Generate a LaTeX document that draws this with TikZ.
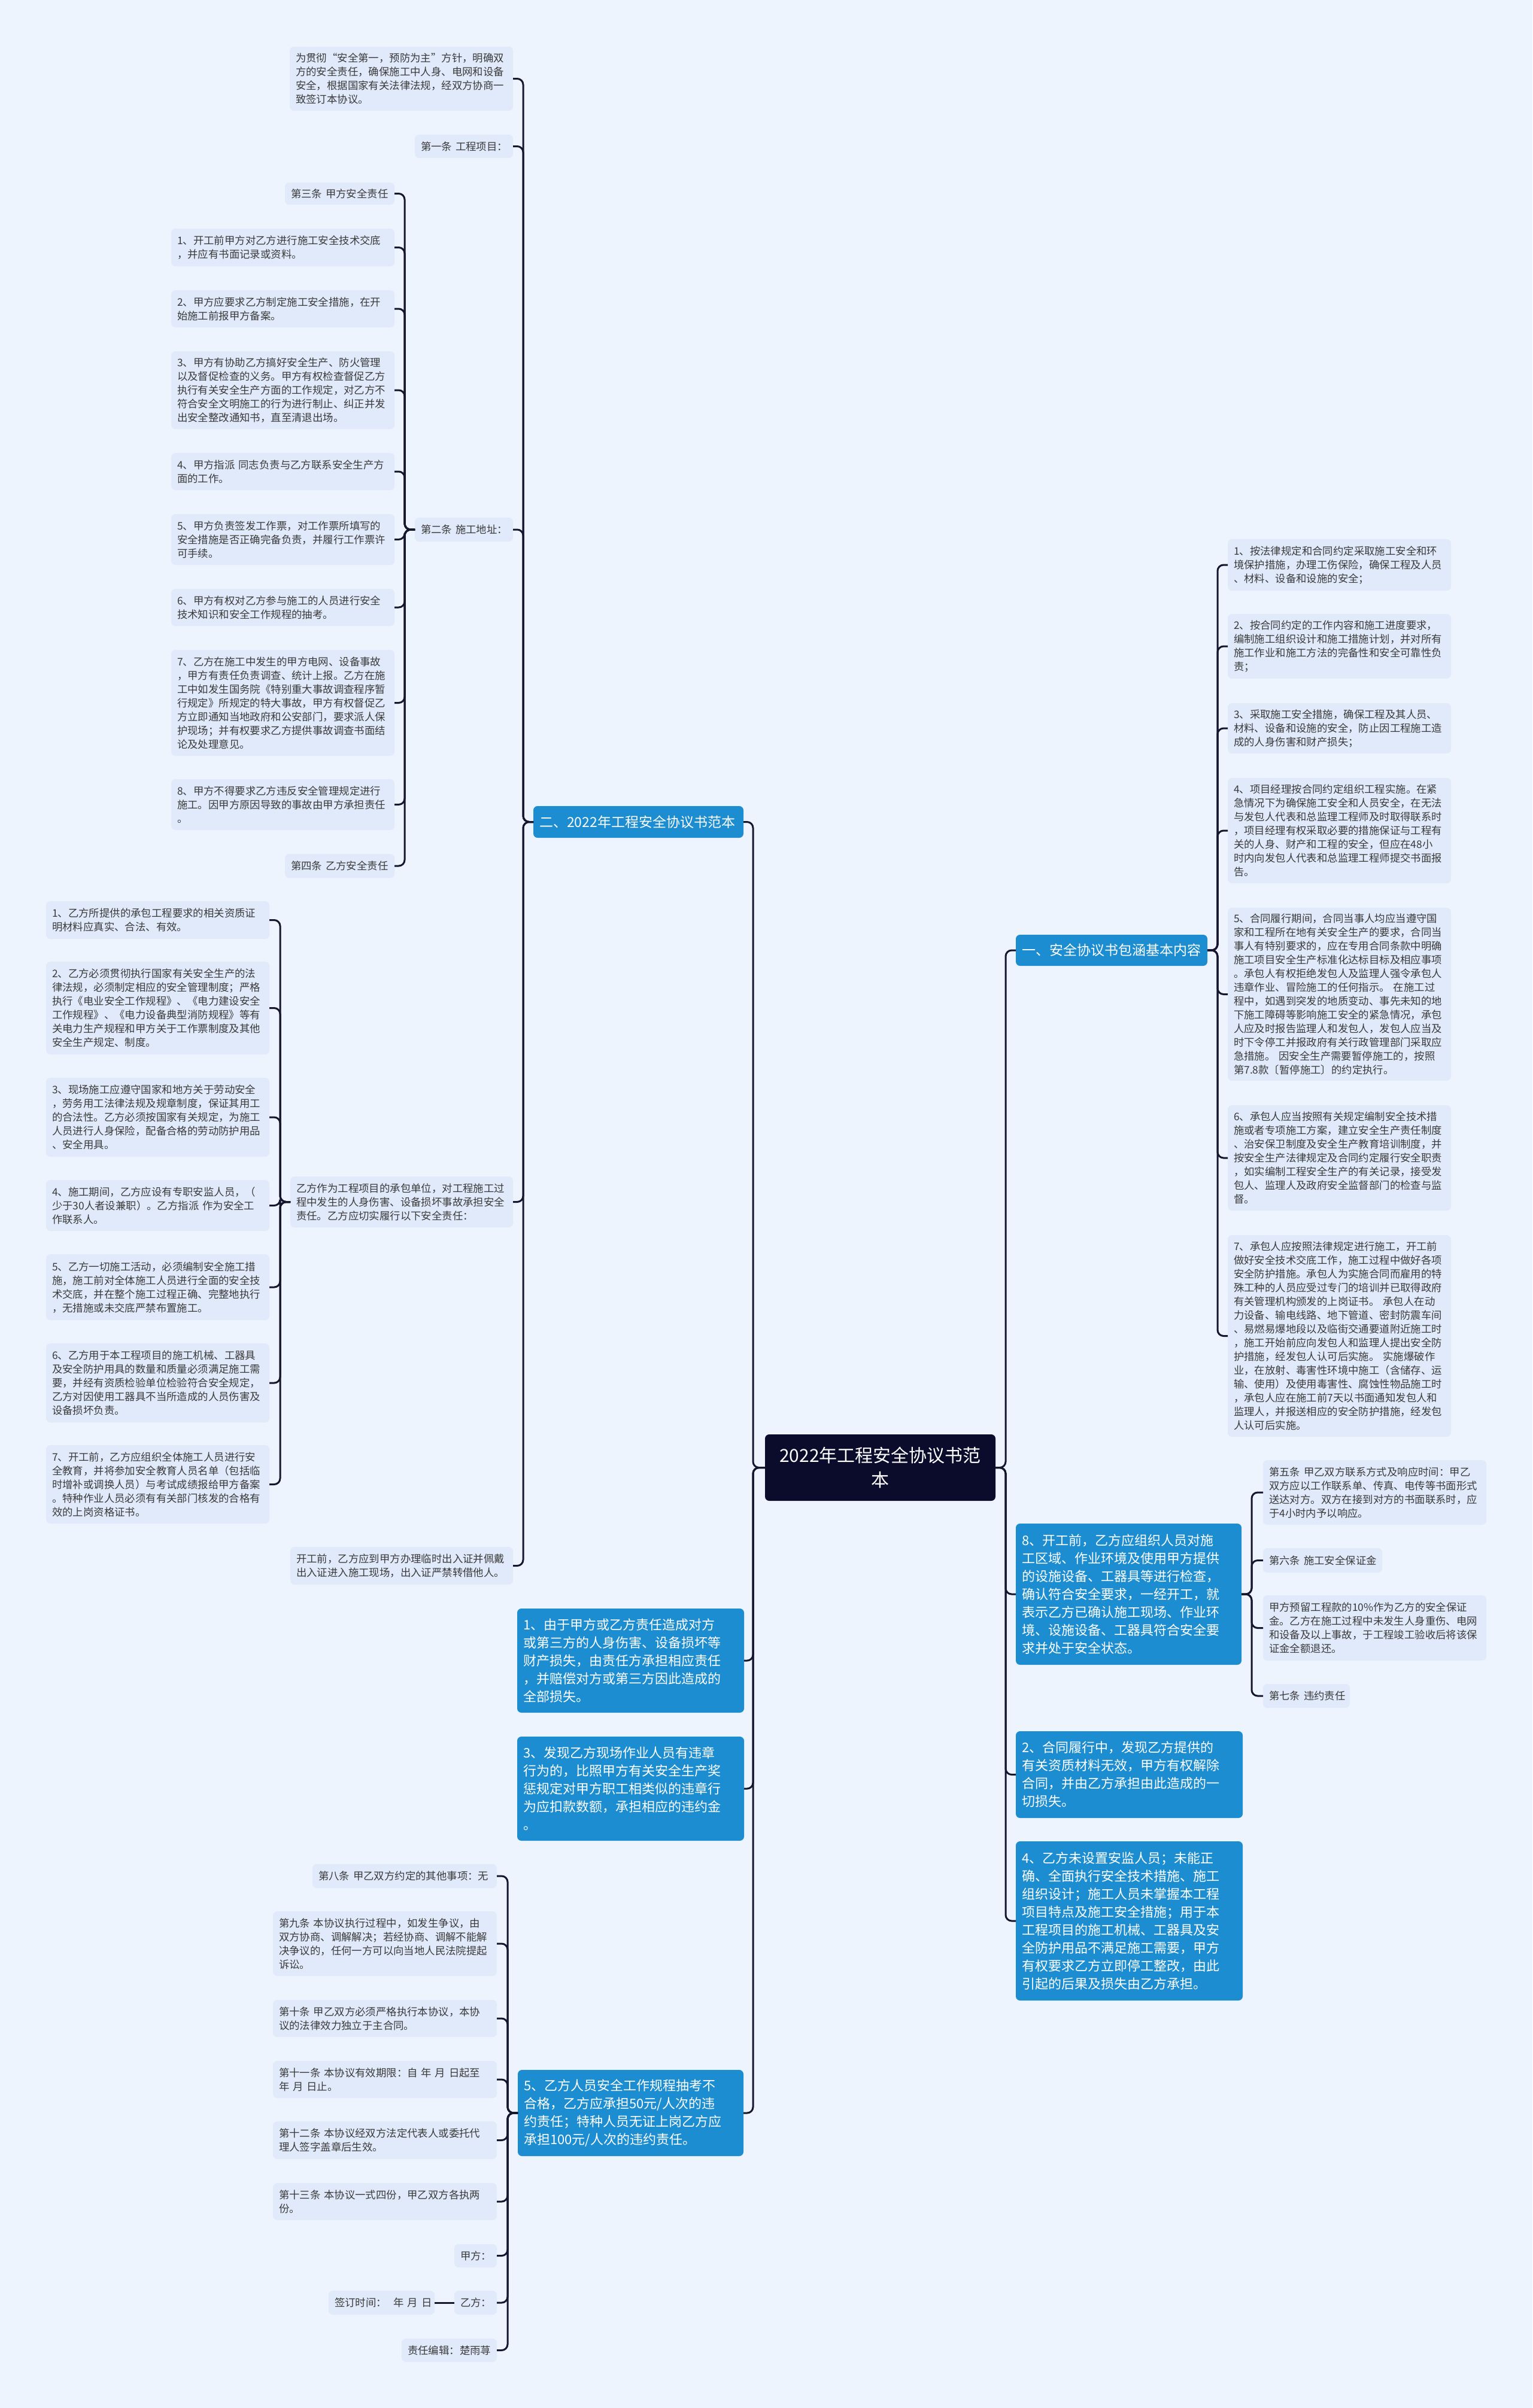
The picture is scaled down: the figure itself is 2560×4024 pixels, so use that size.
\documentclass[tikz,border=0pt]{standalone}
\usepackage{fontspec}
\newfontfamily\cjk{Noto Sans CJK SC}
\definecolor{bgc}{HTML}{EEF4FE}
\definecolor{leaff}{HTML}{E1EAFB}
\definecolor{bluef}{HTML}{1B8DD0}
\definecolor{rootf}{HTML}{0B0B2C}
\definecolor{linec}{HTML}{16162E}
\definecolor{txt}{HTML}{3A3A3A}
\tikzset{
 base/.style={anchor=north west, inner xsep=10pt, inner ysep=3pt, outer sep=0pt, rounded corners=7pt, align=left},
 leaf/.style={base, fill=leaff, text=txt, font=\cjk\fontsize{17.4}{23}\selectfont},
 bluebox/.style={base, fill=bluef, text=white, font=\cjk\fontsize{22}{30}\selectfont},
 head/.style={base, fill=bluef, text=white, font=\cjk\fontsize{23}{28}\selectfont},
 rootbox/.style={base, fill=rootf, text=white, align=center, font=\cjk\fontsize{30}{41}\selectfont},
 conn/.style={draw=linec, line width=3pt, rounded corners=10pt},
}
\newcommand\mynode[7]{%
 \pgfmathsetmacro\mnW{#5-#3}%
 \pgfmathsetmacro\mnH{#6-#4}%
 \pgfmathsetmacro\mnT{#5-#3-20}%
 \node[#1, minimum width=\mnW pt, minimum height=\mnH pt, text width=\mnT pt] (#2) at (#3,#4) {#7};}
\newcommand\connL[2]{\draw[conn] (#1.west) -- ++(-17,0) |- (#2.east);}
\newcommand\connR[2]{\draw[conn] (#1.east) -- ++(17,0) |- (#2.west);}
\begin{document}
\begin{tikzpicture}[x=1pt,y=-1pt]
\fill[bgc] (0,0) rectangle (2560,4024);
\useasboundingbox (0,0) rectangle (2560,4024);
% root
\mynode{rootbox}{root}{1278}{2397}{1663}{2508}{2022年工程安全协议书范\\本}
% ---------- left ----------
\mynode{head}{h2}{891}{1347}{1242}{1400}{二、2022年工程安全协议书范本}
\mynode{leaf}{intro}{484}{78}{857}{185}{为贯彻“安全第一，预防为主”方针，明确双\\方的安全责任，确保施工中人身、电网和设备\\安全，根据国家有关法律法规，经双方协商一\\致签订本协议。}
\mynode{leaf}{t1}{693}{225}{857}{264}{第一条~工程项目：}
\mynode{leaf}{t2}{693}{865}{857}{905}{第二条~施工地址：}
\mynode{leaf}{yz}{485}{1966}{857}{2051}{乙方作为工程项目的承包单位，对工程施工过\\程中发生的人身伤害、设备损坏事故承担安全\\责任。乙方应切实履行以下安全责任：}
\mynode{leaf}{kg}{485}{2585}{857}{2648}{开工前，乙方应到甲方办理临时出入证并佩戴\\出入证进入施工现场，出入证严禁转借他人。}
% 第二条 children
\mynode{leaf}{s3}{476}{305}{659}{342}{第三条~甲方安全责任}
\mynode{leaf}{a1}{286}{382}{659}{445}{1、开工前甲方对乙方进行施工安全技术交底\\，并应有书面记录或资料。}
\mynode{leaf}{a2}{286}{485}{659}{547}{2、甲方应要求乙方制定施工安全措施，在开\\始施工前报甲方备案。}
\mynode{leaf}{a3}{286}{587}{659}{717}{3、甲方有协助乙方搞好安全生产、防火管理\\以及督促检查的义务。甲方有权检查督促乙方\\执行有关安全生产方面的工作规定，对乙方不\\符合安全文明施工的行为进行制止、纠正并发\\出安全整改通知书，直至清退出场。}
\mynode{leaf}{a4}{286}{757}{659}{819}{4、甲方指派~同志负责与乙方联系安全生产方\\面的工作。}
\mynode{leaf}{a5}{286}{859}{659}{944}{5、甲方负责签发工作票，对工作票所填写的\\安全措施是否正确完备负责，并履行工作票许\\可手续。}
\mynode{leaf}{a6}{286}{984}{659}{1046}{6、甲方有权对乙方参与施工的人员进行安全\\技术知识和安全工作规程的抽考。}
\mynode{leaf}{a7}{286}{1086}{659}{1263}{7、乙方在施工中发生的甲方电网、设备事故\\，甲方有责任负责调查、统计上报。乙方在施\\工中如发生国务院《特别重大事故调查程序暂\\行规定》所规定的特大事故，甲方有权督促乙\\方立即通知当地政府和公安部门，要求派人保\\护现场；并有权要求乙方提供事故调查书面结\\论及处理意见。}
\mynode{leaf}{a8}{286}{1302}{659}{1387}{8、甲方不得要求乙方违反安全管理规定进行\\施工。因甲方原因导致的事故由甲方承担责任\\。}
\mynode{leaf}{s4}{476}{1427}{659}{1467}{第四条~乙方安全责任}
% 乙方作为 children
\mynode{leaf}{b1}{77}{1506}{450}{1569}{1、乙方所提供的承包工程要求的相关资质证\\明材料应真实、合法、有效。}
\mynode{leaf}{b2}{77}{1607}{450}{1762}{2、乙方必须贯彻执行国家有关安全生产的法\\律法规，必须制定相应的安全管理制度；严格\\执行《电业安全工作规程》、《电力建设安全\\工作规程》、《电力设备典型消防规程》等有\\关电力生产规程和甲方关于工作票制度及其他\\安全生产规定、制度。}
\mynode{leaf}{b3}{77}{1801}{450}{1933}{3、现场施工应遵守国家和地方关于劳动安全\\，劳务用工法律法规及规章制度，保证其用工\\的合法性。乙方必须按国家有关规定，为施工\\人员进行人身保险，配备合格的劳动防护用品\\、安全用具。}
\mynode{leaf}{b4}{77}{1972}{450}{2057}{4、施工期间，乙方应设有专职安监人员，（\\少于30人者设兼职）。乙方指派~作为安全工\\作联系人。}
\mynode{leaf}{b5}{77}{2096}{450}{2206}{5、乙方一切施工活动，必须编制安全施工措\\施，施工前对全体施工人员进行全面的安全技\\术交底，并在整个施工过程正确、完整地执行\\，无措施或未交底严禁布置施工。}
\mynode{leaf}{b6}{77}{2245}{450}{2377}{6、乙方用于本工程项目的施工机械、工器具\\及安全防护用具的数量和质量必须满足施工需\\要，并经有资质检验单位检验符合安全规定，\\乙方对因使用工器具不当所造成的人员伤害及\\设备损坏负责。}
\mynode{leaf}{b7}{77}{2415}{450}{2546}{7、开工前，乙方应组织全体施工人员进行安\\全教育，并将参加安全教育人员名单（包括临\\时增补或调换人员）与考试成绩报给甲方备案\\。特种作业人员必须有有关部门核发的合格有\\效的上岗资格证书。}
% left blue boxes
\mynode{bluebox}{lb1}{864}{2688}{1243}{2862}{1、由于甲方或乙方责任造成对方\\或第三方的人身伤害、设备损坏等\\财产损失，由责任方承担相应责任\\，并赔偿对方或第三方因此造成的\\全部损失。}
\mynode{bluebox}{lb3}{864}{2902}{1243}{3076}{3、发现乙方现场作业人员有违章\\行为的，比照甲方有关安全生产奖\\惩规定对甲方职工相类似的违章行\\为应扣款数额，承担相应的违约金\\。}
\mynode{bluebox}{lb5}{865}{3459}{1242}{3603}{5、乙方人员安全工作规程抽考不\\合格，乙方应承担50元/人次的违\\约责任；特种人员无证上岗乙方应\\承担100元/人次的违约责任。}
% lb5 children
\mynode{leaf}{d8}{522}{3115}{830}{3155}{第八条~甲乙双方约定的其他事项：无}
\mynode{leaf}{d9}{456}{3194}{830}{3302}{第九条~本协议执行过程中，如发生争议，由\\双方协商、调解解决；若经协商、调解不能解\\决争议的，任何一方可以向当地人民法院提起\\诉讼。}
\mynode{leaf}{d10}{456}{3342}{830}{3404}{第十条~甲乙双方必须严格执行本协议，本协\\议的法律效力独立于主合同。}
\mynode{leaf}{d11}{456}{3444}{830}{3506}{第十一条~本协议有效期限：自~年~月~日起至\\年~月~日止。}
\mynode{leaf}{d12}{456}{3545}{830}{3608}{第十二条~本协议经双方法定代表人或委托代\\理人签字盖章后生效。}
\mynode{leaf}{d13}{456}{3648}{830}{3710}{第十三条~本协议一式四份，甲乙双方各执两\\份。}
\mynode{leaf}{dj}{759}{3750}{830}{3789}{甲方：}
\mynode{leaf}{dy}{759}{3828}{830}{3868}{乙方：}
\mynode{leaf}{ds}{549}{3828}{726}{3868}{签订时间：~~年~月~日}
\mynode{leaf}{de}{671}{3908}{830}{3947}{责任编辑：楚雨荨}
% ---------- right ----------
\mynode{head}{h1}{1697}{1562}{2017}{1614}{一、安全协议书包涵基本内容}
\mynode{leaf}{r1}{2051}{901}{2424}{987}{1、按法律规定和合同约定采取施工安全和环\\境保护措施，办理工伤保险，确保工程及人员\\、材料、设备和设施的安全；}
\mynode{leaf}{r2}{2051}{1026}{2424}{1134}{2、按合同约定的工作内容和施工进度要求，\\编制施工组织设计和施工措施计划，并对所有\\施工作业和施工方法的完备性和安全可靠性负\\责；}
\mynode{leaf}{r3}{2051}{1175}{2424}{1259}{3、采取施工安全措施，确保工程及其人员、\\材料、设备和设施的安全，防止因工程施工造\\成的人身伤害和财产损失；}
\mynode{leaf}{r4}{2051}{1300}{2424}{1476}{4、项目经理按合同约定组织工程实施。在紧\\急情况下为确保施工安全和人员安全，在无法\\与发包人代表和总监理工程师及时取得联系时\\，项目经理有权采取必要的措施保证与工程有\\关的人身、财产和工程的安全，但应在48小\\时内向发包人代表和总监理工程师提交书面报\\告。}
\mynode{leaf}{r5}{2051}{1517}{2424}{1806}{5、合同履行期间，合同当事人均应当遵守国\\家和工程所在地有关安全生产的要求，合同当\\事人有特别要求的，应在专用合同条款中明确\\施工项目安全生产标准化达标目标及相应事项\\。承包人有权拒绝发包人及监理人强令承包人\\违章作业、冒险施工的任何指示。~在施工过\\程中，如遇到突发的地质变动、事先未知的地\\下施工障碍等影响施工安全的紧急情况，承包\\人应及时报告监理人和发包人，发包人应当及\\时下令停工并报政府有关行政管理部门采取应\\急措施。~因安全生产需要暂停施工的，按照\\第7.8款〔暂停施工〕的约定执行。}
\mynode{leaf}{r6}{2051}{1847}{2424}{2023}{6、承包人应当按照有关规定编制安全技术措\\施或者专项施工方案，建立安全生产责任制度\\、治安保卫制度及安全生产教育培训制度，并\\按安全生产法律规定及合同约定履行安全职责\\，如实编制工程安全生产的有关记录，接受发\\包人、监理人及政府安全监督部门的检查与监\\督。}
\mynode{leaf}{r7}{2051}{2064}{2424}{2401}{7、承包人应按照法律规定进行施工，开工前\\做好安全技术交底工作，施工过程中做好各项\\安全防护措施。承包人为实施合同而雇用的特\\殊工种的人员应受过专门的培训并已取得政府\\有关管理机构颁发的上岗证书。~承包人在动\\力设备、输电线路、地下管道、密封防震车间\\、易燃易爆地段以及临街交通要道附近施工时\\，施工开始前应向发包人和监理人提出安全防\\护措施，经发包人认可后实施。~实施爆破作\\业，在放射、毒害性环境中施工（含储存、运\\输、使用）及使用毒害性、腐蚀性物品施工时\\，承包人应在施工前7天以书面通知发包人和\\监理人，并报送相应的安全防护措施，经发包\\人认可后实施。}
\mynode{bluebox}{rb8}{1697}{2546}{2074}{2782}{8、开工前，乙方应组织人员对施\\工区域、作业环境及使用甲方提供\\的设施设备、工器具等进行检查，\\确认符合安全要求，一经开工，就\\表示乙方已确认施工现场、作业环\\境、设施设备、工器具符合安全要\\求并处于安全状态。}
\mynode{leaf}{e5}{2110}{2440}{2483}{2548}{第五条~甲乙双方联系方式及响应时间：甲乙\\双方应以工作联系单、传真、电传等书面形式\\送达对方。双方在接到对方的书面联系时，应\\于4小时内予以响应。}
\mynode{leaf}{e6}{2110}{2587}{2309}{2628}{第六条~施工安全保证金}
\mynode{leaf}{e7}{2110}{2666}{2483}{2775}{甲方预留工程款的10\%作为乙方的安全保证\\金。乙方在施工过程中未发生人身重伤、电网\\和设备及以上事故，于工程竣工验收后将该保\\证金全额退还。}
\mynode{leaf}{e8}{2110}{2814}{2255}{2854}{第七条~违约责任}
\mynode{bluebox}{rb2}{1697}{2893}{2076}{3038}{2、合同履行中，发现乙方提供的\\有关资质材料无效，甲方有权解除\\合同，并由乙方承担由此造成的一\\切损失。}
\mynode{bluebox}{rb4}{1697}{3077}{2076}{3343}{4、乙方未设置安监人员；未能正\\确、全面执行安全技术措施、施工\\组织设计；施工人员未掌握本工程\\项目特点及施工安全措施；用于本\\工程项目的施工机械、工器具及安\\全防护用品不满足施工需要，甲方\\有权要求乙方立即停工整改，由此\\引起的后果及损失由乙方承担。}
% ---------- connectors ----------
\foreach \c in {h2,lb1,lb3,lb5}{\draw[conn] (root.west) -- ++(-20,0) |- (\c.east);}
\foreach \c in {h1,rb8,rb2,rb4}{\draw[conn] (root.east) -- ++(17,0) |- (\c.west);}
\foreach \c in {intro,t1,t2,yz,kg}{\connL{h2}{\c}}
\foreach \c in {s3,a1,a2,a3,a4,a5,a6,a7,a8,s4}{\connL{t2}{\c}}
\foreach \c in {b1,b2,b3,b4,b5,b6,b7}{\connL{yz}{\c}}
\foreach \c in {d8,d9,d10,d11,d12,d13,dj,dy,de}{\connL{lb5}{\c}}
\draw[conn] (dy.west) -- (ds.east);
\foreach \c in {r1,r2,r3,r4,r5,r6,r7}{\connR{h1}{\c}}
\foreach \c in {e5,e6,e7,e8}{\connR{rb8}{\c}}
\end{tikzpicture}
\end{document}
